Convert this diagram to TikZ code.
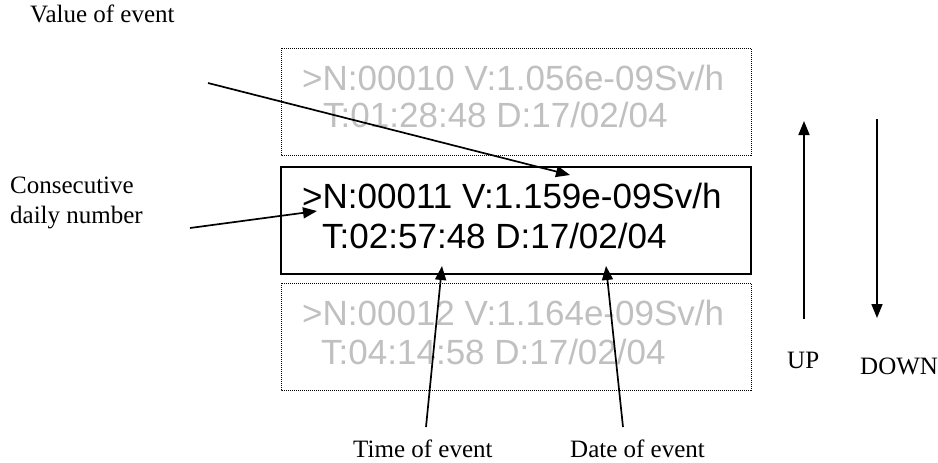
\documentclass[tikz,border=0pt]{standalone}
\usepackage{fontspec}
\setmainfont{Liberation Serif}
\newfontfamily\lcdfont{Liberation Sans}
\usetikzlibrary{arrows.meta}
\definecolor{dimtext}{RGB}{192,192,192}
\tikzset{
  lcd/.style={font=\lcdfont\fontsize{35}{40}\selectfont, anchor=base west, inner sep=0pt},
  dimlcd/.style={lcd, text=dimtext},
  label/.style={font=\fontsize{25}{28}\selectfont, inner sep=0pt},
  dimbox/.style={draw=black, line width=0.8pt, dash pattern=on 1pt off 1pt},
  curbox/.style={draw=black, line width=2pt},
  pointer/.style={draw=black, line width=1.7pt, -{Triangle[length=14pt,width=11pt]}}
}
\begin{document}
\begin{tikzpicture}[x=1pt,y=-1pt]
\useasboundingbox (0,0) rectangle (938,463);
% boxes
\draw[dimbox] (281,48) rectangle (751,155);
\draw[curbox] (281,167) rectangle (751,274);
\draw[dimbox] (281,283) rectangle (751,390);
% LCD texts
\node[dimlcd] (t1) at (302,90) {>N:00010 V:1.056e-09Sv/h};
\node[dimlcd] (t2) at (323,127) {T:01:28:48 D:17/02/04};
\node[lcd] (m1) at (302,208) {>N:00011 V:1.159e-09Sv/h};
\node[lcd] (m2) at (322,248) {T:02:57:48 D:17/02/04};
\node[dimlcd] (b1) at (302,325) {>N:00012 V:1.164e-09Sv/h};
\node[dimlcd] (b2) at (321,364) {T:04:14:58 D:17/02/04};
% labels
\node[label, anchor=base west] (lval) at (30,23) {Value of event};
\node[label, anchor=base west, align=left] (lcons) at (10,223) {Consecutive\\[2pt]daily number};
\node[label, anchor=base west] (ltime) at (353,457) {Time of event};
\node[label, anchor=base west] (ldate) at (570,457) {Date of event};
\node[label, anchor=base west] (lup) at (787,368) {UP};
\node[label, anchor=base west] (ldown) at (860,374) {DOWN};
% arrow ends
\coordinate (vs) at (208,83);
\coordinate (vt) at (570,175);
\coordinate (cs) at (190,228);
\coordinate (ct) at (317,211);
\coordinate (ts) at (426,427);
\coordinate (tt) at (442,266);
\coordinate (ds) at (623,427);
\coordinate (dt) at (606,266);
\coordinate (us) at (804,319);
\coordinate (ut) at (804,121);
\coordinate (ws) at (877,119);
\coordinate (wt) at (877,318);
\draw[pointer] (vs) -- (vt);
\draw[pointer] (cs) -- (ct);
\draw[pointer] (ts) -- (tt);
\draw[pointer] (ds) -- (dt);
\draw[pointer] (us) -- (ut);
\draw[pointer] (ws) -- (wt);
\end{tikzpicture}
\end{document}
